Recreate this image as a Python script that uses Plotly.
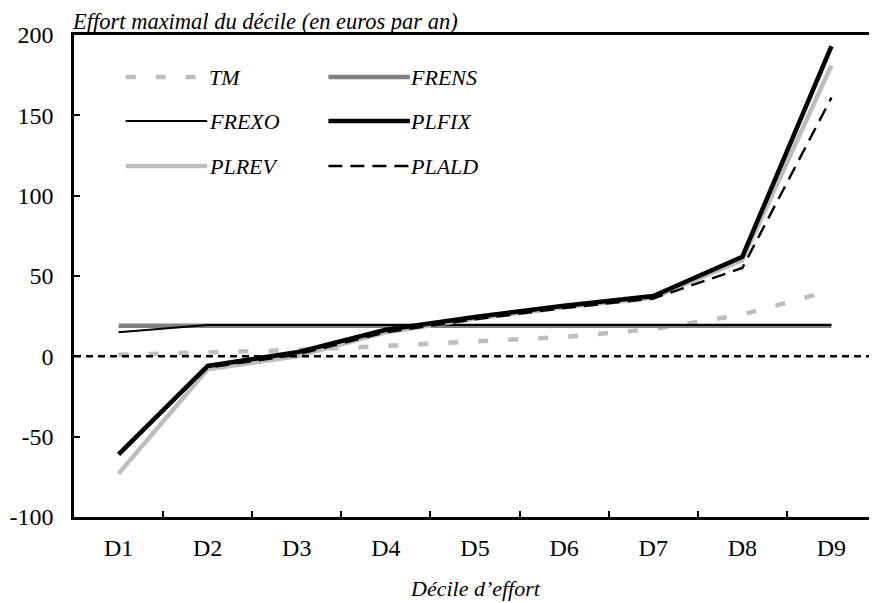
import plotly.graph_objects as go

deciles = ["D1", "D2", "D3", "D4", "D5", "D6", "D7", "D8", "D9"]
tm    = [1, 2.5, 4, 6.5, 9, 12, 17, 26, 41]
frens = [19, 19, 19, 19, 19, 19, 19, 19, 19]
frexo = [15, 19.5, 19.5, 19.5, 19.5, 19.5, 19.5, 19.5, 19.5]
plrev = [-73, -8, 0, 15, 23.5, 30.5, 36.5, 60, 181]
plfix = [-61, -6, 2.5, 16.5, 24.5, 31.5, 37.5, 62, 193]
plald = [-61, -7, 1, 15, 23, 30, 36, 55, 161]
yticks = [-100, -50, 0, 50, 100, 150, 200]
yticklabels = ["-100", "-50", "0", "50", "100", "150", "200"]

FONT = "Liberation Serif, Times New Roman, serif"

series = [
    ("TM", tm, "#bdbdbd", 4.5, "10px,20px"),
    ("FRENS", frens, "#808080", 4.5, "solid"),
    ("FREXO", frexo, "#000000", 1.8, "solid"),
    ("PLREV", plrev, "#bdbdbd", 4.5, "solid"),
    ("PLFIX", plfix, "#000000", 4.5, "solid"),
    ("PLALD", plald, "#000000", 2.4, "14px,8px"),
]

fig = go.Figure()
for name, vals, col, w, dash in series:
    fig.add_trace(go.Scatter(x=deciles, y=vals, mode="lines", name=name,
                             line=dict(color=col, width=w, dash=dash),
                             showlegend=False))

# zero reference line
fig.add_shape(type="line", xref="paper", yref="y", x0=0, x1=1, y0=0, y1=0,
              line=dict(color="black", width=2.5, dash="7px,5px"))

# page-pixel layout of the plot area (page body has an 8px margin)
OFF = 8
L, T, W, H = 69, 35, 807, 482
FIG_W, FIG_H = 877 - OFF, 603 - OFF


def px(x):
    return (x - L) / W


def py(y):
    return (T + H - y) / H


legend_layout = [  # (series index, sample x0, x1, row y, label x)
    (0, 121, 203, 77, 203),
    (1, 325, 407, 77, 405),
    (2, 121, 203, 121, 203),
    (4, 325, 407, 121, 405),
    (3, 121, 203, 166, 203),
    (5, 325, 407, 166, 405),
]
for idx, x0, x1, yy, lx in legend_layout:
    name, vals, col, w, dash = series[idx]
    fig.add_shape(type="line", xref="paper", yref="paper",
                  x0=px(x0), x1=px(x1), y0=py(yy), y1=py(yy),
                  line=dict(color=col, width=w, dash=dash))
    fig.add_annotation(xref="paper", yref="paper", x=px(lx), y=py(yy),
                       xanchor="left", yanchor="middle", showarrow=False,
                       text="<i>%s</i>" % name,
                       font=dict(family=FONT, size=22, color="black"))

# right border (thin grey)
fig.add_shape(type="line", xref="paper", yref="paper", x0=1, x1=1, y0=0, y1=1,
              line=dict(color="#c8c8c8", width=1))

# titles
fig.add_annotation(xref="paper", yref="paper", x=px(65), y=py(21.5),
                   xanchor="left", yanchor="middle", showarrow=False,
                   text="<i>Effort maximal du décile (en euros par an)</i>",
                   font=dict(family=FONT, size=22.5, color="black"))
fig.add_annotation(xref="paper", yref="paper", x=0.5, y=py(588),
                   xanchor="center", yanchor="middle", showarrow=False,
                   text="<i>Décile d’effort</i>",
                   font=dict(family=FONT, size=22, color="black"))

fig.update_layout(
    width=FIG_W, height=FIG_H,
    margin=dict(l=L - OFF, r=FIG_W - (L - OFF) - W, t=T - OFF,
                b=FIG_H - (T - OFF) - H, pad=0),
    paper_bgcolor="white", plot_bgcolor="white",
    font=dict(family=FONT, size=24, color="black"),
    showlegend=False,
    xaxis=dict(type="category", range=[-0.5, 8.5], tickson="boundaries",
               ticks="inside", ticklen=6, tickwidth=2, tickcolor="black",
               showline=True, linecolor="black", linewidth=2.5, mirror=True,
               showgrid=False, zeroline=False, ticklabelstandoff=7,
               tickfont=dict(family=FONT, size=24)),
    yaxis=dict(range=[-100, 200], tickvals=yticks, ticktext=yticklabels,
               ticks="inside", ticklen=6, tickwidth=2, tickcolor="black",
               showline=True, linecolor="black", linewidth=2.5,
               showgrid=False, zeroline=False, ticklabelstandoff=13,
               tickfont=dict(family=FONT, size=24)),
)

fig.write_html("out.html")
